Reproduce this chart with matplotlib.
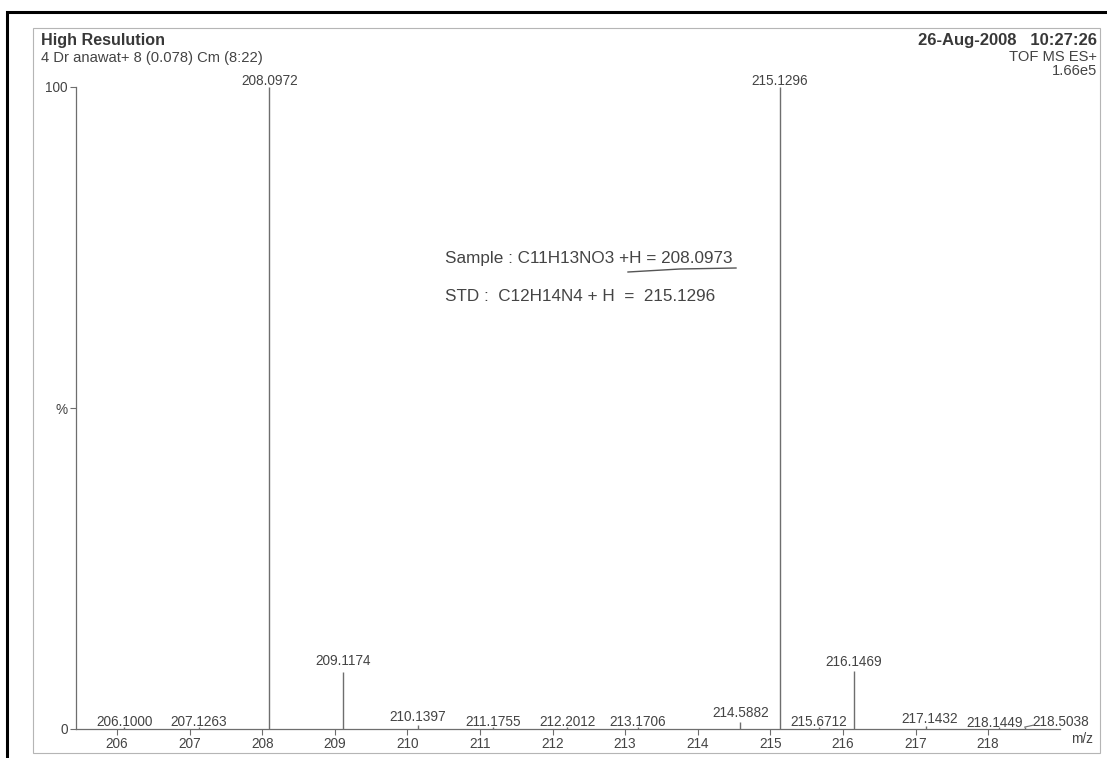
import matplotlib
matplotlib.use("Agg")
import matplotlib.pyplot as plt
from matplotlib.patches import Rectangle
from matplotlib.lines import Line2D

plt.rcParams['font.family'] = ['Liberation Sans', 'DejaVu Sans']

# peak list
mz = [206.1000, 207.1263, 208.0972, 209.1174, 210.1397, 211.1755, 212.2012,
      213.1706, 214.5882, 215.1296, 215.6712, 216.1469, 217.1432, 218.1449, 218.5038]
intensity = [0.3, 0.3, 100.0, 8.9, 0.6, 0.3, 0.3, 0.3, 1.1, 100.0, 0.3, 9.0, 0.5, 0.3, 0.3]
# label placement as printed by the instrument software (m/z shift, baseline height)
label_dx = [0.0, 0.0, 0.0, 0.0, 0.0, 0.0, 0.0, 0.0, 0.0, 0.0, 0.0, 0.0, 0.05, -0.05, 0.5]
label_y = [0.5, 0.5, 100.3, 10.0, 1.25, 0.4, 0.4, 0.4, 1.9, 100.3, 0.4, 9.8, 0.95, 0.35, 0.5]
xticks = list(range(206, 219))

W, H = 1107, 758
fig = plt.figure(figsize=(W / 100, H / 100), dpi=100)

def px(x0, y0, x1, y1):
    return [x0 / W, 1 - y1 / H, (x1 - x0) / W, (y1 - y0) / H]

# scanned page frames
fig.patches.append(Rectangle((7 / W, -0.1), 1.2, 1 - 12 / H + 0.1, transform=fig.transFigure,
                             fill=False, lw=2.2, ec='black'))
fig.patches.append(Rectangle((33 / W, 1 - 753 / H), (1100 - 33) / W, (753 - 28) / H,
                             transform=fig.transFigure, fill=False, lw=0.8, ec='#b5b5b5'))

ax = fig.add_axes(px(76, 87, 1060, 729))
gray = '#6e6e6e'
txt = '#444444'
ax.vlines(mz, 0, intensity, color=gray, lw=1.0)
for m, v, dx, ly in zip(mz, intensity, label_dx, label_y):
    ax.text(m + dx, ly, f"{m:.4f}", ha='center', va='baseline', fontsize=9.8, color=txt,
            clip_on=False)
# small leader for the displaced last label
ax.plot([mz[-1], mz[-1] + 0.12], [0.3, 0.6], color=gray, lw=0.8, clip_on=False)

ax.set_xlim(205.435, 218.99)
ax.set_ylim(0, 100)
ax.set_xticks(xticks)
ax.set_xticklabels([str(t) for t in xticks], fontsize=9.8, color=txt)
ax.set_yticks([0, 50, 100])
ax.set_yticklabels(['0', '%', '100'], fontsize=9.8, color=txt)
ax.tick_params(axis='x', length=4, width=0.8, color=gray, pad=2)
ax.tick_params(axis='y', length=4, width=0.8, color=gray, pad=2)
for s in ['top', 'right']:
    ax.spines[s].set_visible(False)
for s in ['left', 'bottom']:
    ax.spines[s].set_color(gray)
    ax.spines[s].set_linewidth(0.9)
ax.patch.set_alpha(0)

# header text
fig.text(41 / W, 1 - 40 / H, "High Resulution", fontsize=11.6, fontweight='bold', color='#383838',
         ha='left', va='center')
fig.text(41 / W, 1 - 58 / H, "4 Dr anawat+ 8 (0.078) Cm (8:22)", fontsize=10.6, color=txt,
         ha='left', va='center')
fig.text(1097 / W, 1 - 40 / H, "26-Aug-2008   10:27:26", fontsize=12, fontweight='bold',
         color='#383838', ha='right', va='center')
fig.text(1097 / W, 1 - 57 / H, "TOF MS ES+", fontsize=10.6, color=txt, ha='right', va='center')
fig.text(1097 / W, 1 - 71 / H, "1.66e5", fontsize=10.6, color=txt, ha='right', va='center')
fig.text(1093 / W, 1 - 739 / H, "m/z", fontsize=9.8, color=txt, ha='right', va='center')

# handwritten-style annotation
fig.text(445 / W, 1 - 258 / H, "Sample : C11H13NO3 +H = 208.0973", fontsize=12.3, color=txt,
         ha='left', va='center')
fig.text(445 / W, 1 - 297 / H, "STD :  C12H14N4 + H  =  215.1296", fontsize=12.3, color=txt,
         ha='left', va='center')
fig.lines.append(Line2D([628 / W, 680 / W, 736 / W], [1 - 272 / H, 1 - 269 / H, 1 - 268 / H],
                        transform=fig.transFigure, color='#555555', lw=1.0))

fig.savefig("out.png", dpi=100)
